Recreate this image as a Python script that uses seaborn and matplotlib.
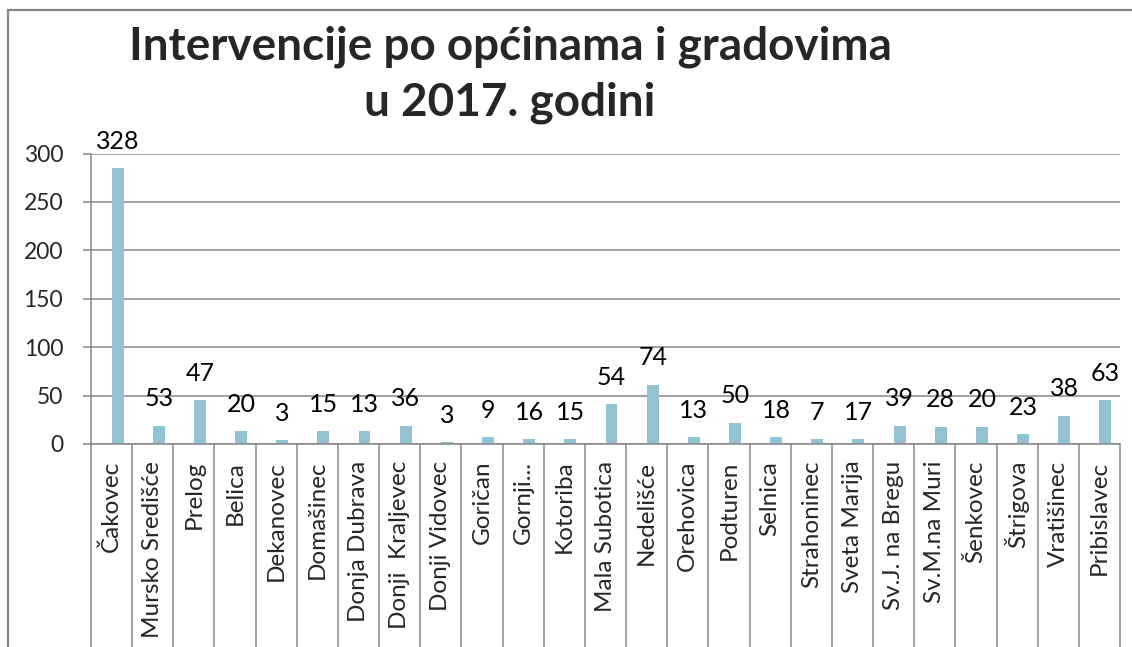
"""
Intervencije po općinama i gradovima u 2017. godini - column chart.
"""

import numpy as np
import pandas as pd
import matplotlib.pyplot as plt
import seaborn as sns
from matplotlib.patches import Rectangle

# ── Data ─────────────────────────────────────────────────────────────────────
places = [
    "Čakovec", "Mursko Središće", "Prelog", "Belica", "Dekanovec",
    "Domašinec", "Donja Dubrava", "Donji  Kraljevec", "Donji Vidovec",
    "Goričan", "Gornji...", "Kotoriba", "Mala Subotica", "Nedelišće",
    "Orehovica", "Podturen", "Selnica", "Strahoninec", "Sveta Marija",
    "Sv.J. na Bregu", "Sv.M.na Muri", "Šenkovec", "Štrigova",
    "Vratišinec", "Pribislavec",
]
# bar heights as drawn
bar_values = [285, 19, 45, 13, 4, 13, 13, 19, 2, 7, 5, 5, 41, 61,
              7, 22, 7, 5, 5, 19, 18, 18, 10, 29, 45]
# data labels as printed above the bars
label_values = [328, 53, 47, 20, 3, 15, 13, 36, 3, 9, 16, 15, 54, 74,
                13, 50, 18, 7, 17, 39, 28, 20, 23, 38, 63]
y_ticks = [0, 50, 100, 150, 200, 250, 300]

title = "Intervencije po općinama i gradovima\nu 2017. godini"

BAR_COLOR  = "#93C2D3"
GRID_COLOR = "#868686"

df = pd.DataFrame({"place": places, "value": bar_values, "label": label_values})

# ── Style ────────────────────────────────────────────────────────────────────
sns.set_style("white")
plt.rcParams["font.family"] = ["Lato", "DejaVu Sans"]

fig = plt.figure(figsize=(11.32, 6.47), dpi=100)
ax = fig.add_axes([91 / 1132, 203 / 647, (1120 - 91) / 1132, 290.5 / 647])

# ── Bars ─────────────────────────────────────────────────────────────────────
sns.barplot(data=df, x="place", y="value", color=BAR_COLOR, width=0.29,
            saturation=1, ax=ax)

# Excel draws them a little right of the category centre
for patch in ax.patches:
    patch.set_x(patch.get_x() + 0.145)
    patch.set_edgecolor("none")

for patch, lab in zip(ax.patches, df["label"]):
    ax.annotate(str(lab),
                (patch.get_x() + patch.get_width() / 2, patch.get_height()),
                xytext=(0, 14), textcoords="offset points",
                ha="center", va="baseline", fontsize=18, color="black",
                annotation_clip=False)

# ── Axes ─────────────────────────────────────────────────────────────────────
ax.set_xlim(-0.5, len(places) - 0.5)
ax.set_ylim(0, 300)
ax.set_yticks(y_ticks)
ax.set_yticklabels([str(t) for t in y_ticks], fontsize=16.5)
ax.yaxis.grid(True, color=GRID_COLOR, linewidth=1.1)
ax.set_axisbelow(True)

ax.set_xticks(range(len(places)))
ax.set_xticklabels(places, rotation=90, fontsize=17.5, va="top", ha="center")
ax.set_xlabel("")
ax.set_ylabel("")

# long separators between categories
ax.set_xticks(np.arange(len(places) + 1) - 0.5, minor=True)
ax.tick_params(axis="x", which="major", length=0, pad=12, bottom=True)
ax.tick_params(axis="x", which="minor", length=150, width=1.1,
               color=GRID_COLOR, direction="out", bottom=True)
ax.tick_params(axis="y", which="major", length=6, width=1.1,
               color=GRID_COLOR, pad=14, left=True)

for side in ["top", "right"]:
    ax.spines[side].set_visible(False)
for side in ["left", "bottom"]:
    ax.spines[side].set_color(GRID_COLOR)
    ax.spines[side].set_linewidth(1.1)

# ── Title and chart frame ────────────────────────────────────────────────────
fig.text(510 / 1132, 1 - 25 / 647, title, ha="center", va="top",
         fontsize=33, fontweight="bold", linespacing=1.4)

fig.patches.append(Rectangle((8 / 1132, -0.1), 1.2, 1.1 - 10 / 647,
                             transform=fig.transFigure, fill=False,
                             edgecolor=GRID_COLOR, linewidth=1.6,
                             clip_on=False))

fig.savefig("out.png", dpi=100)
